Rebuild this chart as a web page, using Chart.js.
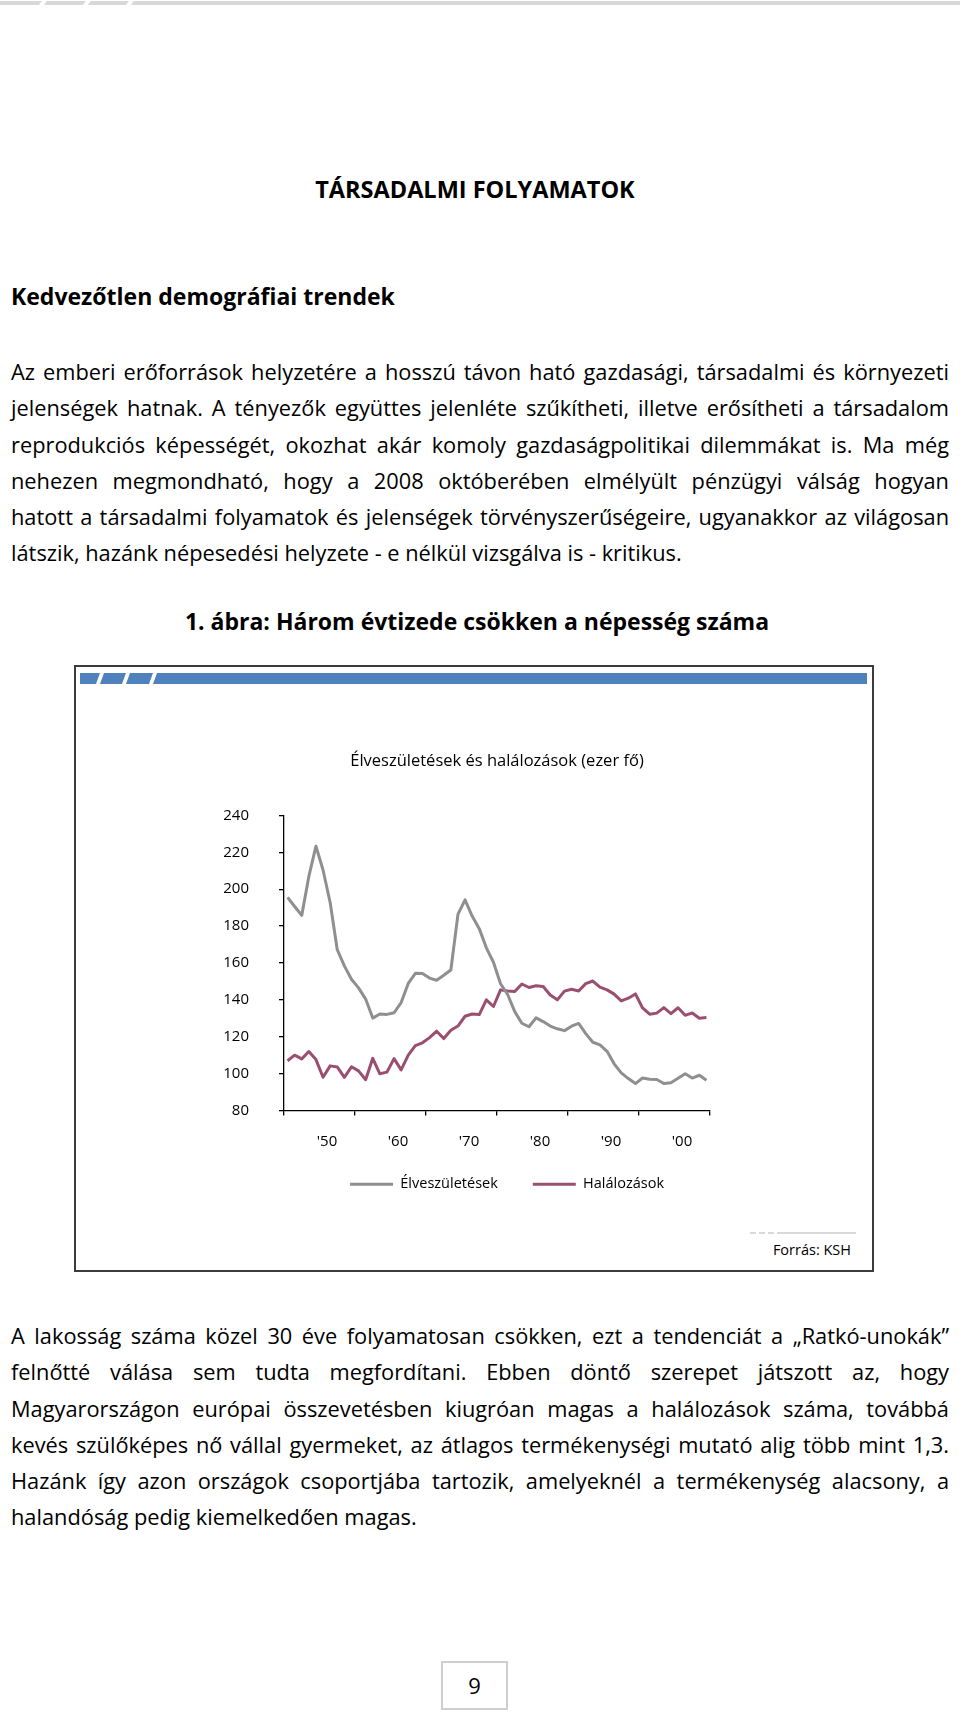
<!DOCTYPE html>
<html lang="hu">
<head>
<meta charset="utf-8">
<title>Társadalmi folyamatok</title>
<script src="https://cdn.jsdelivr.net/npm/chart.js@4.4.1/dist/chart.umd.min.js"></script>
<style>
  html, body { margin: 0; padding: 0; background: #fff; }
  body { width: 960px; height: 1712px; position: relative; font-family: "Open Sans", sans-serif; color: #000; overflow: hidden; }
  .abs { position: absolute; }
  .topbar { left: 0; top: 1px; width: 960px; height: 4px; background: #d9d9d9; }
  .gap { position: absolute; top: -1px; width: 5px; height: 7px; background: #fff; transform: skewX(-35deg); }
  h1, h2, h3 { margin: 0; font-weight: 700; position: absolute; white-space: nowrap; font-size: 23px; }
  h1 { left: 0; width: 950px; text-align: center; top: 173px; font-size: 23.5px; }
  h2 { left: 11px; top: 280px; }
  h3 { left: 0; width: 954px; text-align: center; top: 605px; }
  .para { position: absolute; left: 11px; width: 938px; font-size: 21.8px; line-height: 36.3px; }
  .para div { white-space: nowrap; text-align: justify; text-align-last: justify; }
  .para div.last { text-align-last: left; }
  .box { left: 74px; top: 665px; width: 800px; height: 607px; box-sizing: border-box; border: 2px solid #3c3c3c; }
  .bluebar { left: 80px; top: 673px; width: 787px; height: 11px; background: #4f81bd; overflow: hidden; }
  .bluebar .g { position: absolute; top: -2px; width: 4px; height: 15px; background: #fff; transform: skewX(-20deg); }
  #wrap { left: 74px; top: 665px; width: 800px; height: 560px; }
  .srcline { left: 750px; top: 1232px; width: 106px; height: 2px; background: linear-gradient(to right, #d9d9d9 0 6px, #fff 6px 9px, #d9d9d9 9px 15px, #fff 15px 18px, #d9d9d9 18px 24px, #fff 24px 27px, #d9d9d9 27px); }
  .src { right: 109px; top: 1240px; font-size: 14.5px; }
  .pageno { left: 441px; top: 1661px; width: 67px; height: 49px; box-sizing: border-box; border: 2px solid #cfcfcf; text-align: center; font-size: 22px; line-height: 45px; }
</style>
</head>
<body>

<div class="abs topbar">
  <div class="gap" style="left:40px"></div>
  <div class="gap" style="left:84px"></div>
  <div class="gap" style="left:127px"></div>
</div>

<h1>TÁRSADALMI FOLYAMATOK</h1>
<h2>Kedvezőtlen demográfiai trendek</h2>

<div class="para" style="top:354px">
  <div>Az emberi erőforrások helyzetére a hosszú távon ható gazdasági, társadalmi és környezeti</div>
  <div>jelenségek hatnak. A tényezők együttes jelenléte szűkítheti, illetve erősítheti a társadalom</div>
  <div>reprodukciós képességét, okozhat akár komoly gazdaságpolitikai dilemmákat is. Ma még</div>
  <div>nehezen megmondható, hogy a 2008 októberében elmélyült pénzügyi válság hogyan</div>
  <div>hatott a társadalmi folyamatok és jelenségek törvényszerűségeire, ugyanakkor az világosan</div>
  <div class="last">látszik, hazánk népesedési helyzete - e nélkül vizsgálva is - kritikus.</div>
</div>

<h3>1. ábra: Három évtizede csökken a népesség száma</h3>

<div class="abs box"></div>
<div class="abs bluebar">
  <div class="g" style="left:18px"></div>
  <div class="g" style="left:44px"></div>
  <div class="g" style="left:71px"></div>
</div>
<div class="abs" id="wrap"><canvas id="chart" width="800" height="560"></canvas></div>
<div class="abs srcline"></div>
<div class="abs src">Forrás: KSH</div>

<div class="para" style="top:1318px">
  <div>A lakosság száma közel 30 éve folyamatosan csökken, ezt a tendenciát a „Ratkó-unokák”</div>
  <div>felnőtté válása sem tudta megfordítani. Ebben döntő szerepet játszott az, hogy</div>
  <div>Magyarországon európai összevetésben kiugróan magas a halálozások száma, továbbá</div>
  <div>kevés szülőképes nő vállal gyermeket, az átlagos termékenységi mutató alig több mint 1,3.</div>
  <div>Hazánk így azon országok csoportjába tartozik, amelyeknél a termékenység alacsony, a</div>
  <div class="last">halandóság pedig kiemelkedően magas.</div>
</div>

<div class="abs pageno">9</div>

<script>
// years on the x axis
var years = [1950, 1951, 1952, 1953, 1954, 1955, 1956, 1957, 1958, 1959,
             1960, 1961, 1962, 1963, 1964, 1965, 1966, 1967, 1968, 1969,
             1970, 1971, 1972, 1973, 1974, 1975, 1976, 1977, 1978, 1979,
             1980, 1981, 1982, 1983, 1984, 1985, 1986, 1987, 1988, 1989,
             1990, 1991, 1992, 1993, 1994, 1995, 1996, 1997, 1998, 1999,
             2000, 2001, 2002, 2003, 2004, 2005, 2006, 2007, 2008, 2009];

// Élveszületések (ezer fő)
var births = [195.6, 190.6, 185.8, 206.9, 223.3, 210.4, 192.8, 167.2, 158.4, 151.2,
              146.5, 140.4, 130.1, 132.3, 132.1, 133.0, 138.5, 148.9, 154.4, 154.3,
              151.8, 150.6, 153.3, 156.2, 186.3, 194.2, 185.4, 178.6, 168.2, 160.4,
              148.7, 142.9, 133.6, 127.3, 125.4, 130.2, 128.2, 125.8, 124.3, 123.3,
              125.7, 127.2, 121.7, 117.0, 115.6, 112.1, 105.3, 100.4, 97.3, 94.6,
              97.6, 97.0, 96.8, 94.6, 95.1, 97.5, 99.9, 97.6, 99.1, 96.4];

// Halálozások (ezer fő)
var deaths = [107.0, 110.0, 108.0, 112.0, 107.6, 98.0, 104.2, 103.6, 98.0, 103.7,
              101.5, 96.7, 108.3, 99.9, 100.8, 108.1, 102.0, 110.0, 115.2, 116.7,
              119.5, 123.0, 119.0, 123.5, 125.8, 131.1, 132.3, 132.0, 140.0, 136.4,
              145.4, 144.8, 144.5, 148.6, 146.7, 147.6, 147.2, 142.6, 140.0, 144.7,
              145.7, 144.8, 148.8, 150.2, 146.9, 145.4, 143.1, 139.4, 140.9, 143.2,
              135.6, 132.2, 132.8, 135.8, 132.5, 135.7, 131.6, 132.9, 130.0, 130.4];

// decade tick marks sit between years, labels inside each decade
var tickPositions = [1949.5, 1959.5, 1969.5, 1979.5, 1989.5, 1999.5, 2009.5];
var decadeLabels = ["'50", "'60", "'70", "'80", "'90", "'00"];

var seriesNames = ["Élveszületések", "Halálozások"];
var chartTitle = "Élveszületések és halálozások (ezer fő)";

function toPoints(values) {
  return values.map((v, i) => ({x: years[i], y: v}));
}

// nudge the legend closer to the axis labels, like in the Excel original
var legendNudge = {
  id: "legendNudge",
  afterLayout: function(chart) {
    var lg = chart.legend;
    lg.top -= 13.5; lg.bottom -= 13.5;
    lg.left -= 11; lg.right -= 11;
  }
};

Chart.defaults.font.family = "'Open Sans', sans-serif";
Chart.defaults.color = "#000";

new Chart(document.getElementById("chart"), {
  type: "line",
  data: {
    datasets: [
      {
        label: seriesNames[0],
        data: toPoints(births),
        borderColor: "#8f8f8f",
        backgroundColor: "#8f8f8f",
        borderWidth: 3,
        pointRadius: 0,
        tension: 0,
        borderJoinStyle: "round"
      },
      {
        label: seriesNames[1],
        data: toPoints(deaths),
        borderColor: "#9b4f70",
        backgroundColor: "#9b4f70",
        borderWidth: 3,
        pointRadius: 0,
        tension: 0,
        borderJoinStyle: "round"
      }
    ]
  },
  plugins: [legendNudge],
  options: {
    responsive: false,
    animation: false,
    layout: {
      padding: {left: 100, right: 164, top: 0, bottom: 10}
    },
    plugins: {
      tooltip: {enabled: false},
      title: {
        display: true,
        text: chartTitle,
        fullSize: false,
        font: {size: 16.5, weight: "normal"},
        padding: {top: 86, bottom: 44.6}
      },
      legend: {
        position: "bottom",
        align: "end",
        fullSize: false,
        labels: {
          usePointStyle: true,
          pointStyle: "line",
          pointStyleWidth: 43,
          boxWidth: 43,
          padding: 35,
          font: {size: 14.5}
        }
      }
    },
    scales: {
      x: {
        type: "linear",
        min: 1949.5,
        max: 2009.5,
        afterBuildTicks: function(scale) {
          scale.ticks = tickPositions.map(v => ({value: v}));
        },
        afterFit: function(scale) {
          scale.height = 45;
        },
        ticks: {
          autoSkip: false,
          maxRotation: 0,
          padding: 17,
          labelOffset: 43,
          font: {size: 15},
          callback: function(value, index) {
            return decadeLabels[index] || "";
          }
        },
        grid: {drawOnChartArea: false, tickLength: 5, color: "#000", lineWidth: 1.3},
        border: {color: "#000", width: 1.3}
      },
      y: {
        min: 80,
        max: 240,
        afterFit: function(scale) {
          scale.width = 110;
        },
        ticks: {
          stepSize: 20,
          padding: 30,
          font: {size: 15}
        },
        grid: {drawOnChartArea: false, tickLength: 5, color: "#000", lineWidth: 1.3},
        border: {color: "#000", width: 1.3}
      }
    }
  }
});
</script>
</body>
</html>
